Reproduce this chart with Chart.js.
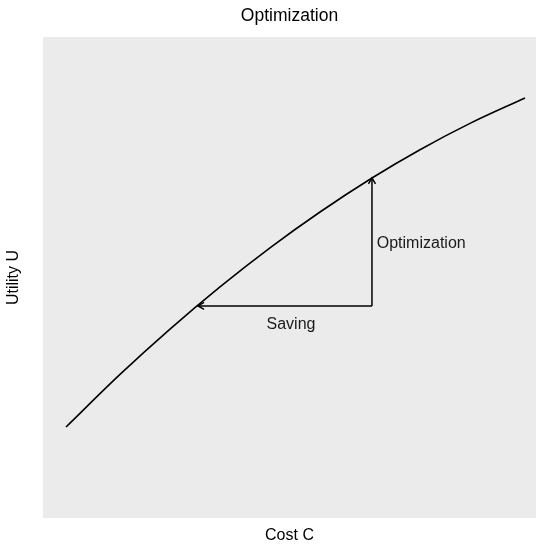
<!DOCTYPE html>
<html><head><meta charset="utf-8">
<script src="https://cdn.jsdelivr.net/npm/chart.js@4/dist/chart.umd.min.js"></script>
<style>html,body{margin:0;padding:0;background:#fff}</style>
</head><body>
<canvas id="c" width="536" height="544"></canvas>
<script>
// Curve: utility as a function of cost (axis units 0..10)
const cost    = [0.467, 1.562, 2.576, 3.590, 4.604, 5.619, 6.673, 7.647, 8.661, 9.777];
const utility = [1.892, 2.985, 3.927, 4.805, 5.617, 6.362, 7.069, 7.657, 8.204, 8.732];
// Arrows (from -> to)
const optArrowX  = [6.673, 6.673];
const optArrowY  = [4.41, 7.07];
const saveArrowX = [6.673, 3.144];
const saveArrowY = [4.41, 4.41];
// Text annotations
const annoText = ['Optimization', 'Saving'];
const annoX    = [6.77, 5.03];
const annoY    = [5.70, 4.02];
const annoAlign = ['left', 'center'];
const titleText = 'Optimization';

const FONT = "'Liberation Sans', Arial, Helvetica, sans-serif";
const toPts = (xs, ys) => xs.map((x, i) => ({x, y: ys[i]}));

const panelBg = {
  id: 'panelBg',
  beforeDraw(chart) {
    const {ctx, chartArea: a} = chart;
    ctx.save();
    ctx.fillStyle = '#EBEBEB';
    ctx.fillRect(a.left, a.top, a.right - a.left, a.bottom - a.top);
    ctx.restore();
  }
};

// plot title centred over the panel (ggplot style)
const panelTitle = {
  id: 'panelTitle',
  afterDraw(chart) {
    const {ctx, chartArea: a} = chart;
    ctx.save();
    ctx.fillStyle = '#000';
    ctx.font = '17.5px ' + FONT;
    ctx.textAlign = 'center';
    ctx.textBaseline = 'middle';
    ctx.fillText(titleText, (a.left + a.right) / 2, a.top - 21);
    ctx.restore();
  }
};

const arrowHeads = {
  id: 'arrowHeads',
  afterDatasetsDraw(chart) {
    const {ctx} = chart;
    const xs = chart.scales.x, ys = chart.scales.y;
    chart.data.datasets.forEach(ds => {
      if (!ds.isArrow) return;
      const n = ds.data.length;
      const p0 = ds.data[n - 2], p1 = ds.data[n - 1];
      const x0 = xs.getPixelForValue(p0.x), y0 = ys.getPixelForValue(p0.y);
      const x1 = xs.getPixelForValue(p1.x), y1 = ys.getPixelForValue(p1.y);
      const ang = Math.atan2(y1 - y0, x1 - x0);
      const L = 7, spread = Math.PI / 6;
      ctx.save();
      ctx.strokeStyle = '#000';
      ctx.lineWidth = 1.5;
      ctx.beginPath();
      ctx.moveTo(x1 - L * Math.cos(ang - spread), y1 - L * Math.sin(ang - spread));
      ctx.lineTo(x1, y1);
      ctx.lineTo(x1 - L * Math.cos(ang + spread), y1 - L * Math.sin(ang + spread));
      ctx.stroke();
      ctx.restore();
    });
  }
};

const annotations = {
  id: 'annotations',
  afterDatasetsDraw(chart) {
    const {ctx} = chart;
    const xs = chart.scales.x, ys = chart.scales.y;
    ctx.save();
    ctx.fillStyle = '#1a1a1a';
    ctx.font = '16px ' + FONT;
    ctx.textBaseline = 'middle';
    annoText.forEach((t, i) => {
      ctx.textAlign = annoAlign[i];
      ctx.fillText(t, xs.getPixelForValue(annoX[i]), ys.getPixelForValue(annoY[i]));
    });
    ctx.restore();
  }
};

new Chart(document.getElementById('c'), {
  type: 'line',
  data: {
    datasets: [
      {data: toPts(cost, utility), borderColor: '#000', borderWidth: 1.6, pointRadius: 0, tension: 0.4, cubicInterpolationMode: 'monotone', fill: false},
      {data: toPts(optArrowX, optArrowY), borderColor: '#000', borderWidth: 1.5, pointRadius: 0, tension: 0, isArrow: true, fill: false},
      {data: toPts(saveArrowX, saveArrowY), borderColor: '#000', borderWidth: 1.5, pointRadius: 0, tension: 0, isArrow: true, fill: false}
    ]
  },
  options: {
    responsive: false,
    animation: false,
    layout: {padding: {left: 0, right: 0, top: 37, bottom: 0}},
    plugins: {
      legend: {display: false},
      tooltip: {enabled: false},
      title: {display: false}
    },
    scales: {
      x: {type: 'linear', min: 0, max: 10,
        grid: {display: false, drawTicks: false}, border: {display: false}, ticks: {display: false},
        title: {display: true, text: 'Cost C', color: '#000', font: {family: FONT, size: 16, lineHeight: 1.1}, padding: {top: 8.4, bottom: 0}}},
      y: {type: 'linear', min: 0, max: 10,
        grid: {display: false, drawTicks: false}, border: {display: false}, ticks: {display: false},
        title: {display: true, text: 'Utility U', color: '#000', font: {family: FONT, size: 16, lineHeight: 1.2}, padding: {top: 4.4, bottom: 19.4}}}
    }
  },
  plugins: [panelBg, panelTitle, arrowHeads, annotations]
});
</script>
</body></html>
